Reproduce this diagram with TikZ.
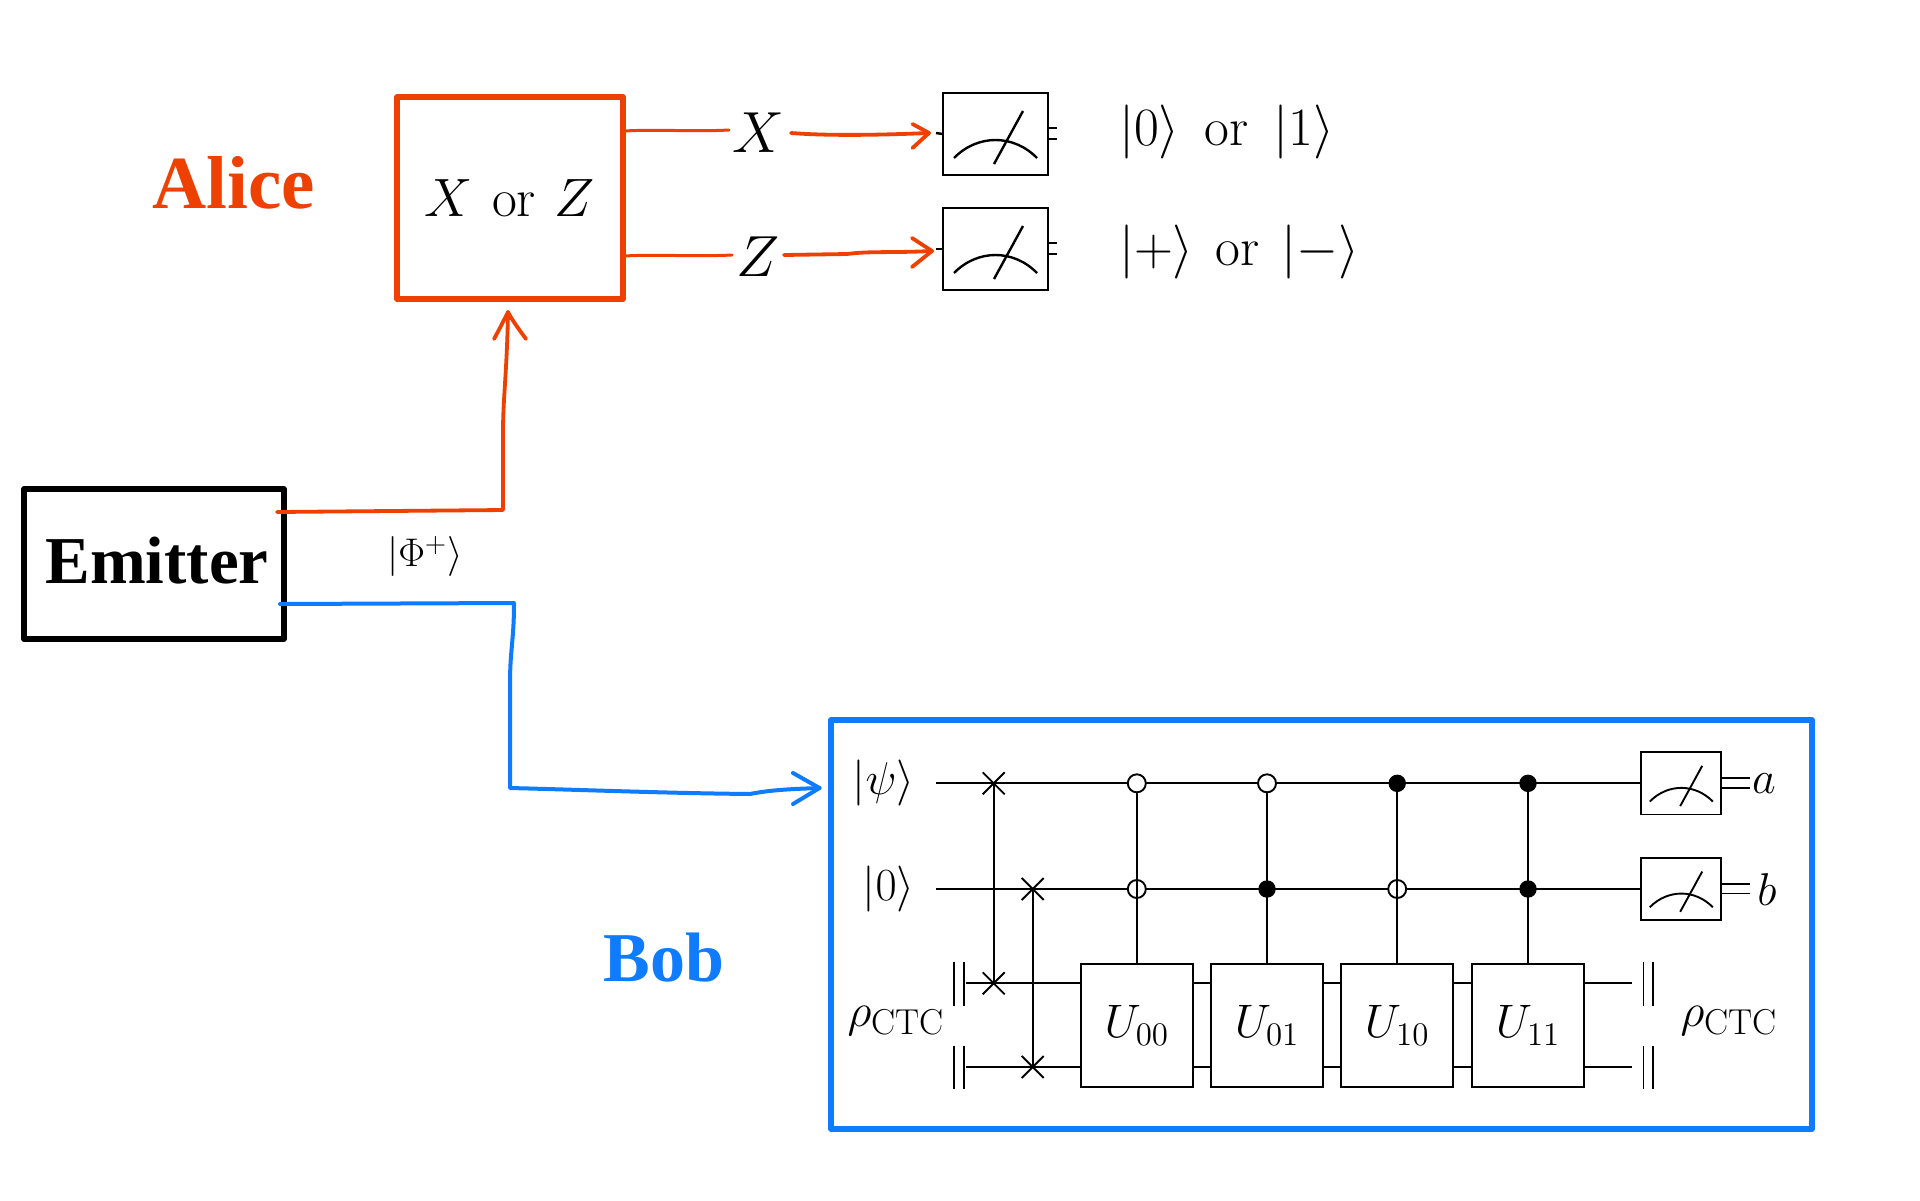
\RequirePackage{fix-cm}
\documentclass[tikz,border=0pt]{standalone}
\usepackage{fontspec}
\usetikzlibrary{shapes.misc}
\newfontfamily\labelserif{Liberation Serif}[Scale=1.0]
\definecolor{alicered}{RGB}{238,64,0}
\definecolor{bobblue}{RGB}{15,123,255}
\newcommand{\fsz}[1]{\fontsize{#1}{#1}\selectfont}
\newcommand{\ctcrho}{$\rho_{\mbox{\fsz{18}CTC}}$}
\tikzset{
  px/.style={x=0.5pt,y=-0.5pt},
  framebox/.style={draw,line width=2.75pt,inner sep=0pt,outer sep=0pt,line join=round},
  gatebox/.style={draw,line width=0.95pt,inner sep=0pt,outer sep=0pt,minimum width=56pt,minimum height=61.7pt,font=\fsz{23.5}},
  wire/.style={line width=0.95pt},
  handred/.style={draw=alicered,line width=1.9pt,line cap=round,line join=round},
  handredthin/.style={draw=alicered,line width=1.5pt,line cap=round,line join=round},
  handblue/.style={draw=bobblue,line width=2pt,line cap=round,line join=round},
  opendot/.style={circle,draw,fill=white,line width=0.95pt,minimum size=9pt,inner sep=0pt,outer sep=0pt},
  fulldot/.style={circle,draw,fill=black,line width=0.5pt,minimum size=8.2pt,inner sep=0pt,outer sep=0pt},
  swapx/.style={cross out,draw,line width=0.95pt,minimum size=11pt,inner sep=0pt,outer sep=0pt},
  plain/.style={inner sep=0pt,outer sep=0pt},
}
% name, cx, cy, scale, line width
\newcommand{\gauge}[5]{%
  \node[draw,line width=#5,inner sep=0pt,outer sep=0pt,minimum width={#4*52.5pt},minimum height={#4*41pt}] (#1) at (#2,#3) {};
  \begin{scope}[shift={(#2,#3)},scale=#4]
    \draw[line width=#5] (-1.5,30) -- (27.5,-23);
    \draw[line width=#5] (-41.5,24) .. controls (-18,0) and (18,0) .. (41.5,24);
  \end{scope}}
\begin{document}
\begin{tikzpicture}[px]
\useasboundingbox (0,0) rectangle (1920,1200);
% --- Alice ---
\node[anchor=base,plain,text=alicered,font=\labelserif\bfseries\fsz{37.5}] (alice) at (234,208) {Alice};
\node[framebox,draw=alicered,minimum width=112.8pt,minimum height=101pt,font=\fsz{27}] (choice) at (510,198) {$X$\hspace{9.5pt}or\hspace{9.5pt}$Z$};
\node[plain,font=\fsz{29}] (lx) at (758,133) {$X$};
\node[plain,font=\fsz{29}] (lz) at (758,257) {$Z$};
\gauge{ma}{995.5}{134}{1}{1.2pt}
\gauge{mb}{995.5}{249}{1}{1.2pt}
\coordinate (aout1) at (624.5,131);
\coordinate (aout2) at (624.5,256);
\coordinate (xend) at (729,130);
\coordinate (zend) at (732,255);
\coordinate (xs) at (791,133);
\coordinate (zs) at (784,255);
\coordinate (xtip) at (929,133);
\coordinate (ztip) at (932,251);
\draw[handredthin] (aout1) .. controls (660,129) and (690,132) .. (xend);
\draw[handredthin] (aout2) .. controls (660,254) and (690,257) .. (zend);
\draw[handred] (xs) .. controls (830,136) and (880,135) .. (xtip);
\draw[handred] (912.5,124) -- (xtip) -- (912.5,148);
\draw[handred] (zs) -- (847,254) .. controls (870,251) and (890,253) .. (ztip);
\draw[handred] (912,238) -- (ztip) -- (912,267);
\draw[wire,line width=1.2pt] (936,133) -- (ma.west);
\draw[wire,line width=1.2pt] (ma.east |- 0,128) -- ++(8.5,0);
\draw[wire,line width=1.2pt] (ma.east |- 0,139) -- ++(8.5,0);
\draw[wire,line width=1.2pt] (936,249) -- (mb.west);
\draw[wire,line width=1.2pt] (mb.east |- 0,243) -- ++(8.5,0);
\draw[wire,line width=1.2pt] (mb.east |- 0,254) -- ++(8.5,0);
\node[anchor=west,plain,font=\fsz{27}] (r1) at (1119,132) {$|0\rangle$\hspace{12.5pt}or\hspace{12.5pt}$|1\rangle$};
\node[anchor=west,plain,font=\fsz{27}] (r2) at (1119,252) {$|{+}\rangle$\hspace{11pt}or\hspace{11pt}$|{-}\rangle$};
% --- Emitter ---
\node[framebox,draw=black,minimum width=130pt,minimum height=75pt] (emitter) at (154,564) {};
\node[anchor=base,plain,font=\labelserif\bfseries\fsz{33.5}] (emlabel) at (157,583) {Emitter};
\node[plain,font=\fsz{20}] (phi) at (425,556.5) {$|\Phi^{+}\rangle$};
\coordinate (rs) at (277,512);
\coordinate (rtip) at (508,312);
\draw[handred] (rs) -- (503,510) -- (503,430) .. controls (503,400) and (507,370) .. (rtip);
\draw[handred] (494,339) .. controls (500,328) and (504,320) .. (rtip) .. controls (512,320) and (518,328) .. (526,339);
\coordinate (bs) at (280,604);
\coordinate (btip) at (819.5,788);
\draw[handblue] (bs) -- (514,603) .. controls (514,640) and (510,650) .. (510,683) -- (510,788)
   .. controls (590,790) and (660,793) .. (750,794) .. controls (770,790) and (790,789) .. (btip);
\draw[handblue] (793,773) -- (btip) -- (793,804);
% --- Bob ---
\node[anchor=base,plain,text=bobblue,font=\labelserif\bfseries\fsz{35}] (bob) at (664,981) {Bob};
\node[framebox,draw=bobblue,minimum width=490.5pt,minimum height=204.5pt] (bobbox) at (1321.5,924.5) {};
% wires
\coordinate (w1) at (936,783.3);
\coordinate (w2) at (936,889);
\coordinate (w3) at (965.7,983.3);
\coordinate (w4) at (965.7,1067);
\node[gatebox] (u00) at (1136.8,1025.4) {$U_{00}$};
\node[gatebox] (u01) at (1267,1025.4) {$U_{01}$};
\node[gatebox] (u10) at (1397.2,1025.4) {$U_{10}$};
\node[gatebox] (u11) at (1528,1025.4) {$U_{11}$};
\gauge{m1}{1681.3}{783.3}{0.76}{0.95pt}
\gauge{m2}{1681.3}{889}{0.76}{0.95pt}
\draw[wire] (w1) -- (m1.west);
\draw[wire] (w2) -- (m2.west);
\foreach \w in {w3,w4}{
  \draw[wire] (\w) -- (u00.west |- \w);
  \draw[wire] (u00.east |- \w) -- (u01.west |- \w);
  \draw[wire] (u01.east |- \w) -- (u10.west |- \w);
  \draw[wire] (u10.east |- \w) -- (u11.west |- \w);
  \draw[wire] (u11.east |- \w) -- (1631.6,0 |- \w);
}
% swaps
\node[swapx] (s1a) at (993.7,783.3) {};
\node[swapx] (s1b) at (993.7,983.3) {};
\node[swapx] (s2a) at (1032.7,889) {};
\node[swapx] (s2b) at (1032.7,1067) {};
\draw[wire] (s1a.center) -- (s1b.center);
\draw[wire] (s2a.center) -- (s2b.center);
% controls
\node[opendot] (c1b) at (1136.8,889) {};
\node[opendot] (c3b) at (1397.2,889) {};
\draw[wire] (1136.8,783.3) -- (u00.north);
\draw[wire] (1267,783.3) -- (u01.north);
\draw[wire] (1397.2,783.3) -- (u10.north);
\draw[wire] (1528,783.3) -- (u11.north);
\node[opendot] (c1a) at (1136.8,783.3) {};
\node[opendot] (c2a) at (1267,783.3) {};
\node[fulldot] (c3a) at (1397.2,783.3) {};
\node[fulldot] (c4a) at (1528,783.3) {};
\node[fulldot] (c2b) at (1267,889) {};
\node[fulldot] (c4b) at (1528,889) {};
% barriers
\foreach \x in {954.3,963.7,1643.5,1652.6}{
  \draw[wire] (\x,962.3) -- (\x,1005.7);
  \draw[wire] (\x,1045.7) -- (\x,1089);
}
% classical outputs
\draw[wire] (m1.east |- 0,778.3) -- (1749.6,778.3);
\draw[wire] (m1.east |- 0,788.3) -- (1749.6,788.3);
\draw[wire] (m2.east |- 0,884) -- (1749.6,884);
\draw[wire] (m2.east |- 0,893.5) -- (1749.6,893.5);
% labels
\node[anchor=base,plain,font=\fsz{23}] (la) at (1764,793) {$a$};
\node[anchor=base,plain,font=\fsz{23}] (lb) at (1767,905) {$b$};
\node[anchor=east,plain,font=\fsz{23}] (lpsi) at (914.5,783) {$|\psi\rangle$};
\node[anchor=east,plain,font=\fsz{23}] (lzero) at (914.5,889) {$|0\rangle$};
\node[anchor=base,plain,font=\fsz{23.5}] (rhol) at (896,1026) {\ctcrho};
\node[anchor=base,plain,font=\fsz{23.5}] (rhor) at (1729,1026) {\ctcrho};
\end{tikzpicture}
\end{document}
